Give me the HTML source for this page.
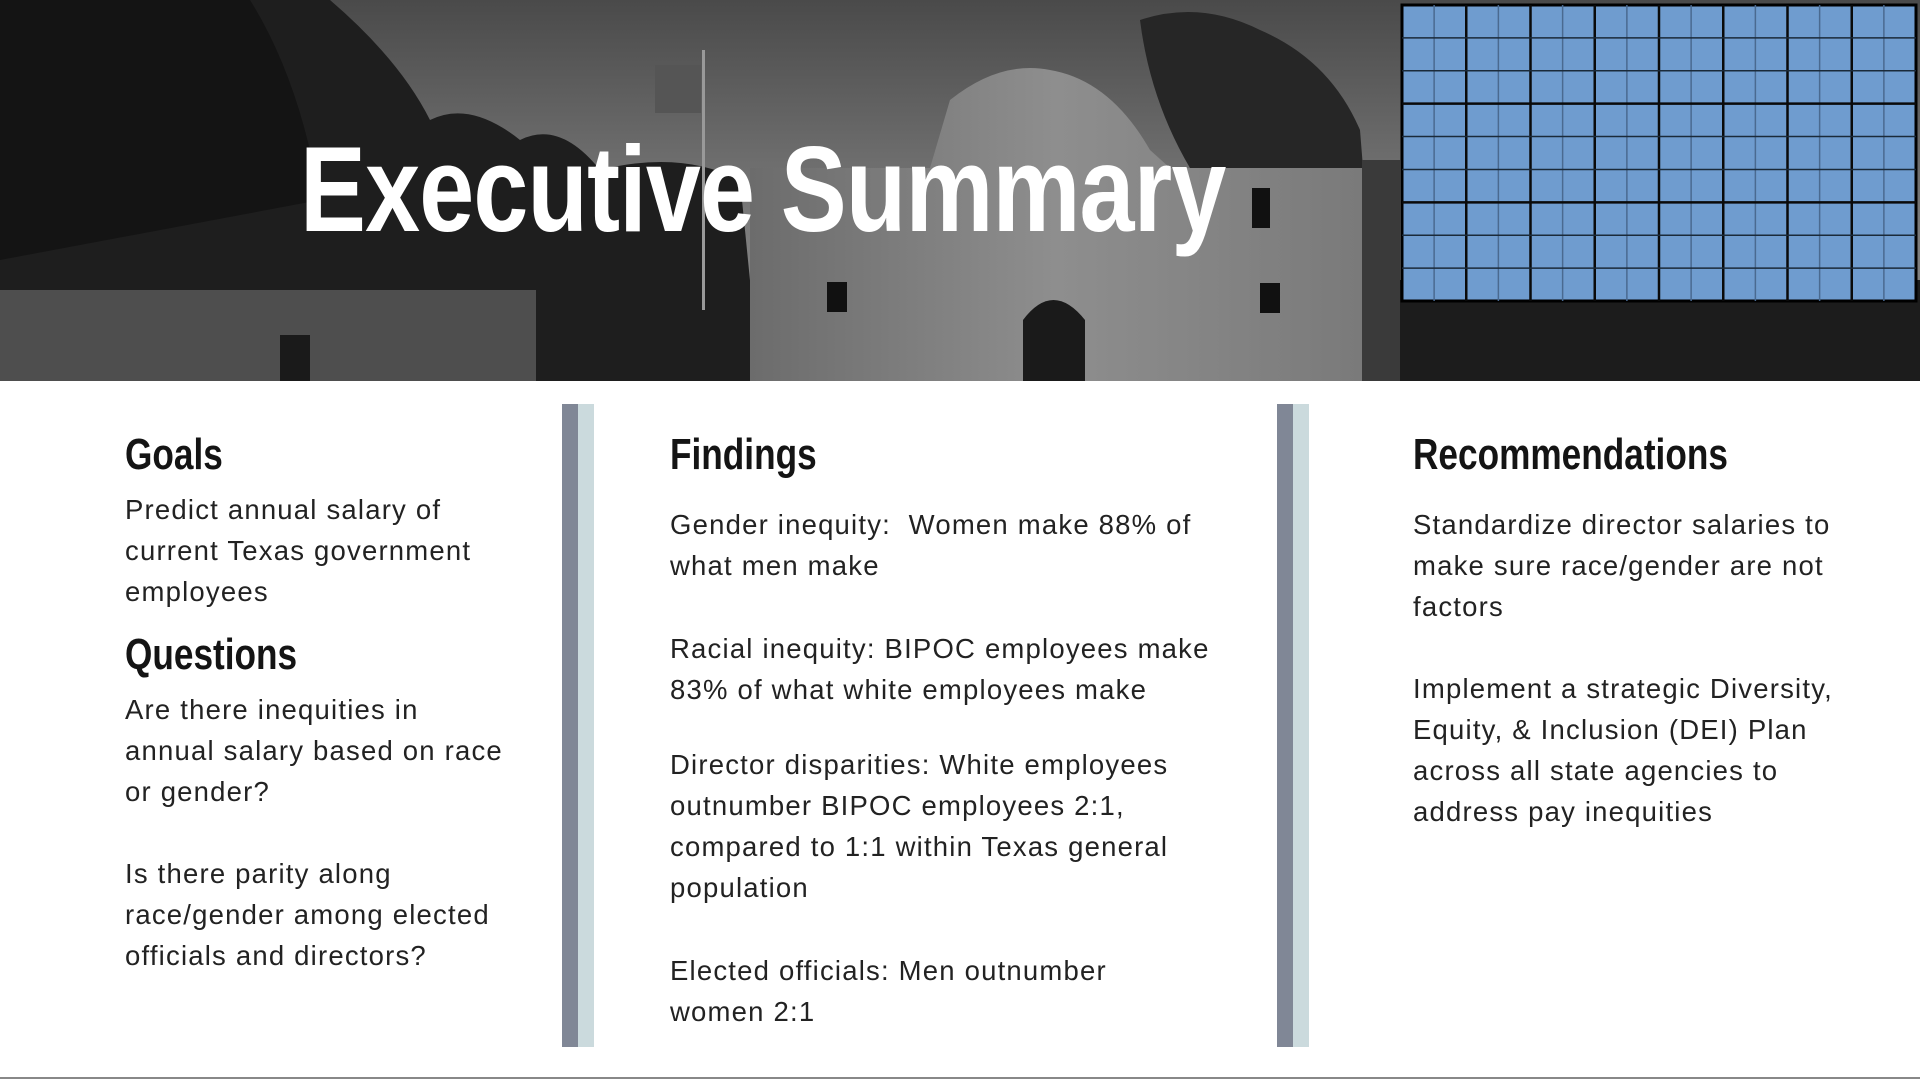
<!DOCTYPE html>
<html><head><meta charset="utf-8">
<style>
html,body{margin:0;padding:0;background:#fff;}
#page{position:relative;width:1920px;height:1080px;overflow:hidden;background:#fff;font-family:"Liberation Sans",sans-serif;color:#1d1d1d;}
.h{position:absolute;font-family:"Liberation Sans",sans-serif;font-weight:bold;font-size:44px;color:#141414;line-height:50px;margin:0;transform:scaleX(0.8);transform-origin:left top;white-space:nowrap;}
.p{position:absolute;font-size:27.5px;line-height:41px;margin:0;color:#222;letter-spacing:1.2px;white-space:nowrap;}
.bar{position:absolute;}
</style></head>
<body>
<div id="page">
<svg width="1920" height="381" style="position:absolute;left:0;top:0" viewBox="0 0 1920 381">
  <defs>
    <linearGradient id="sky" x1="0" y1="0" x2="0" y2="1"><stop offset="0" stop-color="#4a4a4a"/><stop offset="0.6" stop-color="#7c7c7c"/><stop offset="1" stop-color="#8a8a8a"/></linearGradient>
    <linearGradient id="bld" x1="0" y1="0" x2="1" y2="0"><stop offset="0" stop-color="#6c6c6c"/><stop offset="0.5" stop-color="#8e8e8e"/><stop offset="1" stop-color="#7a7a7a"/></linearGradient>
  </defs>
  <rect width="1920" height="381" fill="url(#sky)"/>
  <path d="M0 0 H330 Q400 60 430 120 Q470 100 520 140 Q560 120 600 170 Q680 150 740 180 L760 381 H0 Z" fill="#1e1e1e"/>
  <path d="M0 0 H250 Q300 80 320 200 L0 260 Z" fill="#141414"/>
  <path d="M750 168 H930 L950 100 Q1000 60 1050 70 Q1110 80 1150 150 L1170 168 H1362 V381 H750 Z" fill="url(#bld)"/>
  <path d="M0 290 H536 V381 H0 Z" fill="#4e4e4e"/>
  <path d="M1140 20 Q1200 0 1260 30 Q1330 60 1360 130 L1380 381 H1362 V168 H1190 Q1150 100 1140 20 Z" fill="#262626"/>
  <path d="M1362 160 H1400 V381 H1362 Z" fill="#3a3a3a"/>
  <rect x="1400" y="280" width="520" height="101" fill="#1c1c1c"/>
  <rect x="280" y="335" width="30" height="46" fill="#1a1a1a"/>
  <rect x="827" y="282" width="20" height="30" fill="#111"/>
  <rect x="1260" y="283" width="20" height="30" fill="#111"/>
  <rect x="1252" y="188" width="18" height="40" fill="#111"/>
  <path d="M1023 381 V320 Q1053 280 1085 320 V381 Z" fill="#1a1a1a"/>
  <rect x="702" y="50" width="3" height="260" fill="#999"/>
  <rect x="655" y="65" width="46" height="48" fill="#555"/>
</svg>
<svg id="grid" width="520" height="300" style="position:absolute;left:1400px;top:3px" viewBox="0 0 520 300"></svg>
<div style="position:absolute;left:300px;top:124px;font-family:'Liberation Sans',sans-serif;font-weight:bold;font-size:122px;line-height:130px;color:#fff;white-space:nowrap;letter-spacing:-1px;transform:scaleX(0.81);transform-origin:left top;">Executive Summary</div>

<div class="bar" style="left:562px;top:404px;width:16px;height:643px;background:#808796"></div>
<div class="bar" style="left:578px;top:404px;width:16px;height:643px;background:#cbdadd"></div>
<div class="bar" style="left:1277px;top:404px;width:16px;height:643px;background:#808796"></div>
<div class="bar" style="left:1293px;top:404px;width:16px;height:643px;background:#cbdadd"></div>
<div style="position:absolute;left:0;top:1077px;width:1920px;height:2px;background:#888"></div>

<div class="h" style="left:125px;top:430px">Goals</div>
<div class="p" style="left:125px;top:489px">Predict annual salary of<br>current Texas government<br>employees</div>
<div class="h" style="left:125px;top:630px">Questions</div>
<div class="p" style="left:125px;top:689px">Are there inequities in<br>annual salary based on race<br>or gender?</div>
<div class="p" style="left:125px;top:853px">Is there parity along<br>race/gender among elected<br>officials and directors?</div>

<div class="h" style="left:670px;top:430px">Findings</div>
<div class="p" style="left:670px;top:504px">Gender inequity:&nbsp; Women make 88% of<br>what men make</div>
<div class="p" style="left:670px;top:628px">Racial inequity: BIPOC employees make<br>83% of what white employees make</div>
<div class="p" style="left:670px;top:744px">Director disparities: White employees<br>outnumber BIPOC employees 2:1,<br>compared to 1:1 within Texas general<br>population</div>
<div class="p" style="left:670px;top:950px">Elected officials: Men outnumber<br>women 2:1</div>

<div class="h" style="left:1413px;top:430px">Recommendations</div>
<div class="p" style="left:1413px;top:504px">Standardize director salaries to<br>make sure race/gender are not<br>factors</div>
<div class="p" style="left:1413px;top:668px">Implement a strategic Diversity,<br>Equity, &amp; Inclusion (DEI) Plan<br>across all state agencies to<br>address pay inequities</div>
</div>
<script>
const cols = 16, rows = 9;
const g = document.getElementById('grid');
const NS = 'http://www.w3.org/2000/svg';
const W = 514, H = 296, x0 = 2, y0 = 2;
const bg = document.createElementNS(NS, 'rect');


bg.setAttribute('x', x0); bg.setAttribute('y', y0); bg.setAttribute('width', W); bg.setAttribute('height', H);
bg.setAttribute('fill', '#6f9ccf'); bg.setAttribute('stroke', '#000'); bg.setAttribute('stroke-width', '3');
g.appendChild(bg);
for (let i = 1; i < cols; i++) {
  const l = document.createElementNS(NS, 'line');
  
  
  const x = x0 + W * i / cols;
  l.setAttribute('x1', x); l.setAttribute('x2', x); l.setAttribute('y1', y0); l.setAttribute('y2', y0 + H);
  l.setAttribute('stroke', i % 2 ? '#4a6a90' : '#0a0a0a');
  l.setAttribute('stroke-width', i % 2 ? '1.5' : '2.5');
  g.appendChild(l);
}
for (let j = 1; j < rows; j++) {
  const l = document.createElementNS(NS, 'line');
  
  
  const y = y0 + H * j / rows;
  l.setAttribute('x1', x0); l.setAttribute('x2', x0 + W); l.setAttribute('y1', y); l.setAttribute('y2', y);
  l.setAttribute('stroke', j % 3 ? '#1a2a3a' : '#0a0a0a');
  l.setAttribute('stroke-width', j % 3 ? '1.5' : '2.5');
  g.appendChild(l);
}
</script>
</body></html>
